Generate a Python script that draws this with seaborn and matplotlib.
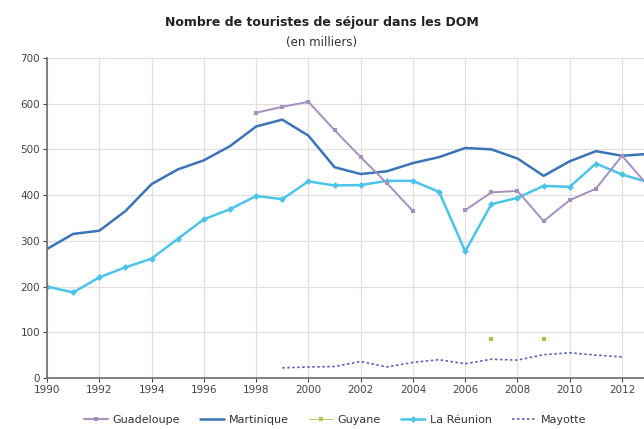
import numpy as np
import pandas as pd
import matplotlib
matplotlib.use("Agg")
import matplotlib.pyplot as plt
from matplotlib.lines import Line2D
import seaborn as sns

# données (en milliers)
annees = list(range(1990, 2014))

martinique = [282, 315, 322, 365, 424, 456, 476, 507, 550, 565, 530, 461,
              446, 452, 470, 483, 503, 500, 480, 442, 474, 496, 486, 490]

reunion = [200, 187, 220, 242, 261, 304, 347, 369, 398, 391, 430, 421,
           422, 431, 431, 407, 277, 380, 394, 420, 418, 469, 445, 428]

# Guadeloupe : pas de donnée avant 1998 ni en 2005
guadeloupe = [np.nan] * 8 + [580, 593, 604, 542, 483, 426, 365, np.nan,
                             367, 406, 409, 343, 389, 414, 486, 420]

mayotte_annees = list(range(1999, 2013))
mayotte = [22, 24, 25, 36, 24, 34, 40, 31, 41, 39, 51, 55, 50, 46]

guyane_annees = [2007, 2009]
guyane = [85, 85]

couleurs = {
    "Guadeloupe": "#a68fbf",
    "Martinique": "#3a74b6",
    "Guyane": "#9bcb3c",
    "La Réunion": "#4cc4ea",
    "Mayotte": "#5a63b0",
}


def main():
    sns.set_style("white")
    plt.rcParams["font.family"] = ["DejaVu Sans"]

    fig = plt.figure(figsize=(6.44, 4.29), dpi=100)
    ax = fig.add_axes([0.073, 0.119, 0.927, 0.746])

    df = pd.DataFrame({"annee": annees, "Martinique": martinique,
                       "La Réunion": reunion, "Guadeloupe": guadeloupe})

    sns.lineplot(data=df, x="annee", y="Martinique", ax=ax,
                 color=couleurs["Martinique"], linewidth=1.8)
    sns.lineplot(data=df, x="annee", y="La Réunion", ax=ax,
                 color=couleurs["La Réunion"], linewidth=1.8,
                 marker="D", markersize=3.5, markeredgewidth=0)

    # Guadeloupe en deux morceaux (trou en 2005)
    g = df[["annee", "Guadeloupe"]]
    for seg in (g[(g.annee >= 1998) & (g.annee <= 2004)], g[g.annee >= 2006]):
        sns.lineplot(data=seg, x="annee", y="Guadeloupe", ax=ax,
                     color=couleurs["Guadeloupe"], linewidth=1.4,
                     marker="s", markersize=3.5, markeredgewidth=0)

    sns.lineplot(x=mayotte_annees, y=mayotte, ax=ax, color=couleurs["Mayotte"],
                 linewidth=1.2, linestyle=(0, (1.5, 1.5)))
    sns.scatterplot(x=guyane_annees, y=guyane, ax=ax, color=couleurs["Guyane"],
                    marker="s", s=12, linewidth=0)

    ax.set_xlim(1990, 2012.84)
    ax.set_ylim(0, 700)
    ax.set_xticks(range(1990, 2013, 2))
    ax.set_yticks(range(0, 701, 100))
    ax.set_xlabel("")
    ax.set_ylabel("")
    ax.grid(True, color="#e4dfdb", linewidth=0.9)
    ax.set_axisbelow(True)
    for s in ("top", "right"):
        ax.spines[s].set_visible(False)
    for s in ("left", "bottom"):
        ax.spines[s].set_color("#6e6e6e")
        ax.spines[s].set_linewidth(1.2)
    ax.tick_params(axis="both", labelsize=7.5, colors="#444444", length=3,
                   width=0.8, pad=2, direction="out", bottom=True, left=True)

    fig.text(0.5, 0.948, "Nombre de touristes de séjour dans les DOM",
             ha="center", va="center", fontsize=9, fontweight="bold",
             color="#222222")
    fig.text(0.5, 0.900, "(en milliers)", ha="center", va="center",
             fontsize=8.5, color="#333333")

    handles = [
        Line2D([], [], color=couleurs["Guadeloupe"], marker="s", markersize=3.5,
               markeredgewidth=0, linewidth=1.4),
        Line2D([], [], color=couleurs["Martinique"], linewidth=1.8),
        Line2D([], [], color=couleurs["Guyane"], marker="s", markersize=3.5,
               markeredgewidth=0, linewidth=0.6, alpha=0.9),
        Line2D([], [], color=couleurs["La Réunion"], marker="D", markersize=3.5,
               markeredgewidth=0, linewidth=1.8),
        Line2D([], [], color=couleurs["Mayotte"], linewidth=1.2,
               linestyle=(0, (1.5, 1.5))),
    ]
    labels = ["Guadeloupe", "Martinique", "Guyane", "La Réunion", "Mayotte"]
    fig.legend(handles, labels, loc="center", bbox_to_anchor=(0.52, 0.022),
               ncol=5, frameon=False, fontsize=8, handlelength=2.2,
               columnspacing=1.8, handletextpad=0.4, labelcolor="#333333")

    fig.savefig("out.png", dpi=100, facecolor="white")


if __name__ == "__main__":
    main()
